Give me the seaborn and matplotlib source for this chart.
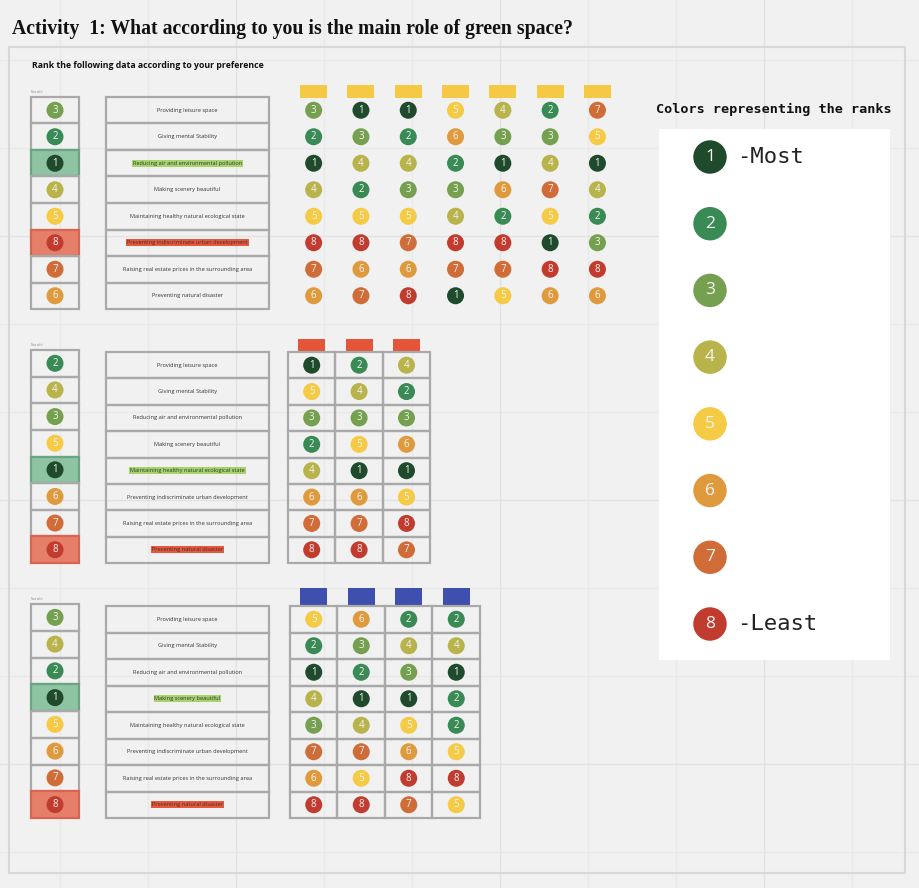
import matplotlib
matplotlib.use("Agg")
import matplotlib.pyplot as plt
from matplotlib.patches import Rectangle
import seaborn as sns
import numpy as np
import pandas as pd

# ---- data ----
statements = [
    "Providing leisure space",
    "Giving mental Stability",
    "Reducing air and environmental pollution",
    "Making scenery beautiful",
    "Maintaining healthy natural ecological state",
    "Preventing indiscriminate urban development",
    "Raising real estate prices in the surrounding area",
    "Preventing natural disaster",
]
ranks = [1, 2, 3, 4, 5, 6, 7, 8]
rank_colors = ["#1f4b2c", "#3a8a55", "#74a04f", "#b8b34b",
               "#f5ca45", "#e09a3e", "#d06c38", "#c23b2f"]

rank_top = [3, 2, 1, 4, 5, 8, 7, 6]
rank_mid = [2, 4, 3, 5, 1, 6, 7, 8]
rank_bot = [3, 4, 2, 1, 5, 6, 7, 8]

answers_top = [[3, 2, 1, 4, 5, 8, 7, 6],
               [1, 3, 4, 2, 5, 8, 6, 7],
               [1, 2, 4, 3, 5, 7, 6, 8],
               [5, 6, 2, 3, 4, 8, 7, 1],
               [4, 3, 1, 6, 2, 8, 7, 5],
               [2, 3, 4, 7, 5, 1, 8, 6],
               [7, 5, 1, 4, 2, 3, 8, 6]]
answers_mid = [[1, 5, 3, 2, 4, 6, 7, 8],
               [2, 4, 3, 5, 1, 6, 7, 8],
               [4, 2, 3, 6, 1, 5, 8, 7]]
answers_bot = [[5, 2, 1, 4, 3, 7, 6, 8],
               [6, 3, 2, 1, 4, 7, 5, 8],
               [2, 4, 3, 1, 5, 6, 8, 7],
               [2, 4, 1, 2, 2, 5, 8, 5]]

legend_notes = {1: "-Most", 8: "-Least"}

palette = dict(zip(ranks, rank_colors))
sans = "Open Sans"
grey = "#a9a9a9"

fig = plt.figure(figsize=(9.2, 8.88), dpi=100)
fig.patch.set_facecolor("#f1f1f1")
ax = fig.add_axes([0, 0, 1, 1])
ax.set_xlim(0, 920)
ax.set_ylim(888, 0)
ax.axis("off")

# whiteboard grid
for g in np.arange(60, 900, 88):
    major = g in (236, 500, 764)
    c = "#e2e2e2" if major else "#e9e9e9"
    ax.axvline(g, color=c, lw=1.0, zorder=0)
    ax.axhline(g, color=c, lw=1.0, zorder=0)
ax.add_patch(Rectangle((9, 47), 896, 826, fill=False, ec="#d8d8d8", lw=1.5, zorder=1))

ax.text(12, 29, "Activity  1: What according to you is the main role of green space?",
        family="Liberation Serif", weight="bold", fontsize=14.2, va="center", color="#111")
ax.text(32, 65, "Rank the following data according to your preference",
        family=sans, weight="bold", fontsize=6.3, va="center", color="#111")


def dots(df, size, fs):
    sns.scatterplot(data=df, x="x", y="y", hue="rank", palette=palette, s=size,
                    linewidth=0, legend=False, ax=ax, zorder=4)
    for x, y, rk in zip(df["x"], df["y"], df["rank"]):
        ax.text(x, y, str(int(rk)), ha="center", va="center",
                fontsize=fs, family=sans, color="#f4f4f4", zorder=5)


blocks = [
    dict(rank=rank_top, ans=answers_top, y0=97, y1=309, sy0=97, gx0=290, cw=47.3,
         hy=85, hh=12.7, hc="#f6c945", lines=False),
    dict(rank=rank_mid, ans=answers_mid, y0=350, y1=563, sy0=352, gx0=288, cw=47.4,
         hy=339, hh=13, hc="#e4553a", lines=True),
    dict(rank=rank_bot, ans=answers_bot, y0=604, y1=818, sy0=606, gx0=290, cw=47.5,
         hy=588, hh=18, hc="#3f4fae", lines=True),
]

for b in blocks:
    n = len(statements)
    rh = (b["y1"] - b["y0"]) / n
    sh = (b["y1"] - b["sy0"]) / n
    ax.text(31, b["y0"] - 4, "New table", fontsize=1.8, color="#888", family=sans)
    # rank column
    for i, rk in enumerate(b["rank"]):
        fc, ec = "none", grey
        if rk == 1:
            fc, ec = "#8fc4a3", "#6aa583"
        elif rk == 8:
            fc, ec = "#e67f6a", "#d9644f"
        ax.add_patch(Rectangle((31, b["y0"] + i * rh), 48, rh, fc=fc, ec=ec, lw=1.6, zorder=2))
    rdf = pd.DataFrame({"x": 55.0, "y": b["y0"] + rh * (np.arange(n) + 0.5), "rank": b["rank"]})
    dots(rdf, 150, 7)
    # statements column
    for i, (st, rk) in enumerate(zip(statements, b["rank"])):
        ax.add_patch(Rectangle((106, b["sy0"] + i * sh), 163, sh, fc="none", ec=grey, lw=1.6, zorder=2))
        box = None
        if rk == 1:
            box = dict(fc="#a6d46c", ec="none", pad=0.6)
        elif rk == 8:
            box = dict(fc="#e6573b", ec="none", pad=0.6)
        ax.text(187.5, b["sy0"] + (i + 0.5) * sh, st, ha="center", va="center",
                fontsize=4.1, family=sans, color="#333", bbox=box, zorder=3)
    # answers grid
    k = len(b["ans"])
    cx = b["gx0"] + b["cw"] * (np.arange(k) + 0.5)
    for j in range(k):
        ax.add_patch(Rectangle((cx[j] - 13.5, b["hy"]), 27, b["hh"], fc=b["hc"], ec="none", zorder=2))
        if b["lines"]:
            for i in range(n):
                ax.add_patch(Rectangle((b["gx0"] + j * b["cw"], b["sy0"] + i * sh), b["cw"], sh,
                                       fc="none", ec=grey, lw=1.6, zorder=2))
    adf = pd.DataFrame([{"x": cx[j], "y": b["sy0"] + sh * (i + 0.5), "rank": v}
                        for j, col in enumerate(b["ans"]) for i, v in enumerate(col)])
    dots(adf, 150, 7)

# legend panel
ax.add_patch(Rectangle((659, 129), 231, 531, fc="white", ec="none", zorder=2))
ax.text(774, 109, "Colors representing the ranks", ha="center", va="center",
        family="DejaVu Sans Mono", weight="bold", fontsize=9.7, color="#111")
ldf = pd.DataFrame({"x": 710.0, "y": np.linspace(157, 624, len(ranks)), "rank": ranks})
dots(ldf, 580, 12.5)
for y, rk in zip(ldf["y"], ldf["rank"]):
    if rk in legend_notes:
        ax.text(737, y, legend_notes[rk], va="center", family="DejaVu Sans Mono",
                fontsize=16, color="#222", zorder=5)

fig.savefig("out.png", dpi=100, facecolor=fig.get_facecolor())
